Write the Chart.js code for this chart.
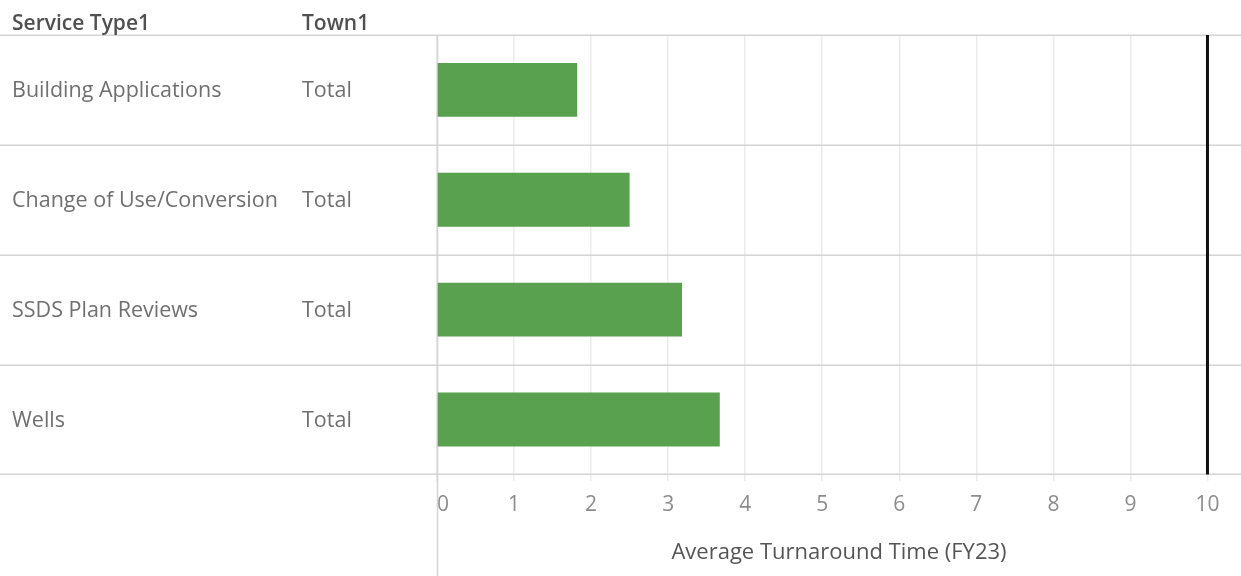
<!DOCTYPE html>
<html>
<head>
<meta charset="utf-8">
<script src="https://cdn.jsdelivr.net/npm/chart.js@4.4.1/dist/chart.umd.min.js"></script>
<style>
  html, body { margin: 0; padding: 0; background: #ffffff; overflow: hidden; }
  #wrap { width: 1241px; height: 576px; position: relative; }
</style>
</head>
<body>
<div id="wrap"><canvas id="chart"></canvas></div>
<script>
// Row headers
const serviceTypes = ['Building Applications', 'Change of Use/Conversion', 'SSDS Plan Reviews', 'Wells'];
const towns = ['Total', 'Total', 'Total', 'Total'];
const columnHeaders = ['Service Type1', 'Town1'];

// Average turnaround time, FY23
const avgTurnaround = [1.82, 2.50, 3.18, 3.67];

// Reference line (target)
const targetLine = [10];

// Axis
const tickValues = [0, 1, 2, 3, 4, 5, 6, 7, 8, 9, 10];
const axisMax = 10.435;
const axisTitle = 'Average Turnaround Time (FY23)';

const FONT = '"Open Sans", "DejaVu Sans", sans-serif';

// Draws the table frame (header rule, row rules, pane divider) and the row header text
const tableFrame = {
  id: 'tableFrame',
  beforeDatasetsDraw(chart, args, opts) {
    const { ctx, chartArea: a, scales: { y } } = chart;
    const W = chart.width, H = chart.height;
    ctx.save();
    ctx.strokeStyle = '#d4d4d4';
    ctx.lineWidth = 1.5;
    for (let i = 0; i <= serviceTypes.length; i++) {
      const yy = Math.round(y.getPixelForValue(i - 0.5)) + 0.25;
      ctx.beginPath();
      ctx.moveTo(0, yy);
      ctx.lineTo(W, yy);
      ctx.stroke();
    }
    // pane divider
    ctx.beginPath();
    ctx.moveTo(a.left + 0.5, a.top);
    ctx.lineTo(a.left + 0.5, H);
    ctx.stroke();

    // column headers
    ctx.textBaseline = 'alphabetic';
    ctx.textAlign = 'left';
    ctx.fillStyle = '#505050';
    ctx.font = '600 21px ' + FONT;
    ctx.fillText(columnHeaders[0], opts.col1, opts.headerBaseline);
    ctx.fillText(columnHeaders[1], opts.col2, opts.headerBaseline);

    // row headers
    ctx.fillStyle = '#707070';
    ctx.font = '21.5px ' + FONT;
    serviceTypes.forEach((s, i) => {
      const yc = y.getPixelForValue(i) + opts.rowBaselineShift;
      ctx.fillText(s, opts.col1, yc);
      ctx.fillText(towns[i], opts.col2, yc);
    });
    ctx.restore();
  },
  afterDatasetsDraw(chart) {
    const { ctx, chartArea: a, scales: { x } } = chart;
    ctx.save();
    ctx.strokeStyle = '#111111';
    ctx.lineWidth = 3;
    targetLine.forEach(v => {
      const xx = x.getPixelForValue(v);
      ctx.beginPath();
      ctx.moveTo(xx, a.top);
      ctx.lineTo(xx, a.bottom);
      ctx.stroke();
    });
    ctx.restore();
  }
};

const gridColor = (c) => (c.tick && tickValues.includes(c.tick.value)) ? '#ececec' : 'rgba(0,0,0,0)';

new Chart(document.getElementById('chart'), {
  type: 'bar',
  data: {
    labels: serviceTypes,
    datasets: [{
      data: avgTurnaround,
      backgroundColor: '#59a14f',
      borderWidth: 0,
      barPercentage: 0.49,
      categoryPercentage: 1
    }]
  },
  options: {
    indexAxis: 'y',
    responsive: true,
    maintainAspectRatio: false,
    animation: false,
    events: [],
    layout: { padding: { left: 437, top: 35, right: 0, bottom: 0 } },
    plugins: {
      legend: { display: false },
      tooltip: { enabled: false },
      tableFrame: { col1: 12, col2: 302, headerBaseline: 30, rowBaselineShift: 7.5 }
    },
    scales: {
      y: {
        type: 'category',
        display: false,
        grid: { display: false }
      },
      x: {
        type: 'linear',
        min: 0,
        max: axisMax,
        afterBuildTicks: (s) => {
          s.ticks = tickValues.concat([axisMax]).map(v => ({ value: v }));
        },
        border: { display: false },
        grid: {
          color: gridColor,
          lineWidth: 1.5,
          drawTicks: true,
          tickLength: 18,
          tickBorderDash: [7, 60],
          tickColor: gridColor
        },
        ticks: {
          align: 'inner',
          autoSkip: false,
          maxRotation: 0,
          minRotation: 0,
          padding: 0,
          color: '#8c8c8c',
          font: { family: FONT, size: 21 },
          callback: (v) => tickValues.includes(v) ? String(v) : ''
        },
        title: {
          display: true,
          text: axisTitle,
          color: '#555555',
          font: { family: FONT, size: 22 },
          padding: { top: 22, bottom: 10 }
        }
      }
    }
  },
  plugins: [tableFrame]
});
</script>
</body>
</html>
